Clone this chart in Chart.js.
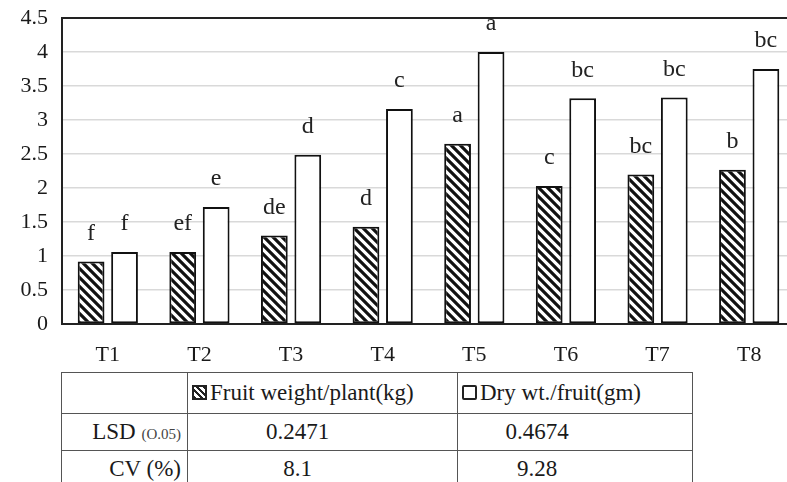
<!DOCTYPE html>
<html>
<head>
<meta charset="utf-8">
<script src="https://cdn.jsdelivr.net/npm/chart.js@4/dist/chart.umd.min.js"></script>
<style>
  html, body { margin: 0; padding: 0; background: #fff; }
  body { width: 787px; height: 482px; overflow: hidden; position: relative; font-family: "Liberation Serif", "Times New Roman", "DejaVu Serif", serif; color: #1a1a1a; }
  #wrap { position: absolute; left: 0; top: 0; width: 800px; height: 372px; }
  #stats { position: absolute; left: 61px; top: 372px; border-collapse: collapse; font-size: 23px; }
  #stats td { border: 1.5px solid #555; padding: 0; white-space: nowrap; }
  #stats tr.head td { height: 40px; }
  #stats tr.lsd td { height: 36px; }
  #stats tr.cv td { height: 36px; }
  .c1 { width: 119px; text-align: right; padding-right: 6px !important; }
  .c2 { width: 269px; }
  .c3 { width: 234px; }
  .v2 { text-align: center; padding-right: 50px !important; }
  .v3 { text-align: center; padding-right: 76px !important; }
  .sub { font-size: 15px; color: #444; }
  .ico { display: inline-block; width: 11px; height: 11px; border: 2px solid #222; vertical-align: 0px; margin: 0 3px 0 4px; }
  .ico.hatch { background: repeating-linear-gradient(45deg, #222 0 2px, #fff 2px 4.5px); }
  .ico.plain { background: #fff; border-radius: 2px; }
</style>
</head>
<body>
<div id="wrap"><canvas id="chart"></canvas></div>
<table id="stats">
  <tr class="head">
    <td class="c1"></td>
    <td class="c2" id="name1"></td>
    <td class="c3" id="name2"></td>
  </tr>
  <tr class="lsd">
    <td class="c1">LSD <span class="sub">(O.05)</span></td>
    <td class="v2" id="lsd1"></td>
    <td class="v3" id="lsd2"></td>
  </tr>
  <tr class="cv">
    <td class="c1">CV (%)</td>
    <td class="v2" id="cv1"></td>
    <td class="v3" id="cv2"></td>
  </tr>
</table>
<script>
const categories = ["T1", "T2", "T3", "T4", "T5", "T6", "T7", "T8"];
const seriesNames = ["Fruit weight/plant(kg)", "Dry wt./fruit(gm)"];
const fruitWeight = [0.92, 1.06, 1.30, 1.43, 2.65, 2.03, 2.20, 2.27];
const dryWeight = [1.06, 1.72, 2.49, 3.16, 4.00, 3.32, 3.33, 3.75];
const fruitLetters = ["f", "ef", "de", "d", "a", "c", "bc", "b"];
const dryLetters = ["f", "e", "d", "c", "a", "bc", "bc", "bc"];
const lsdValues = ["0.2471", "0.4674"];
const cvValues = ["8.1", "9.28"];

const SERIF = "'Liberation Serif', 'Times New Roman', 'DejaVu Serif', serif";

// table under the plot
document.getElementById("name1").innerHTML = '<span class="ico hatch"></span>' + seriesNames[0];
document.getElementById("name2").innerHTML = '<span class="ico plain"></span>' + seriesNames[1];
document.getElementById("lsd1").textContent = lsdValues[0];
document.getElementById("lsd2").textContent = lsdValues[1];
document.getElementById("cv1").textContent = cvValues[0];
document.getElementById("cv2").textContent = cvValues[1];

const makeHatch = () => {
  const size = 9;
  const c = document.createElement("canvas");
  c.width = size;
  c.height = size;
  const g = c.getContext("2d");
  g.fillStyle = "#fff";
  g.fillRect(0, 0, size, size);
  g.strokeStyle = "#111";
  g.lineWidth = 3.2;
  g.beginPath();
  g.moveTo(-2, -2); g.lineTo(size + 2, size + 2);
  g.moveTo(-2, size - 2); g.lineTo(2, size + 2);
  g.moveTo(size - 2, -2); g.lineTo(size + 2, 2);
  g.stroke();
  return g.createPattern(c, "repeat");
};

const frame = {
  id: "frame",
  afterDatasetsDraw(chart) {
    const { ctx, chartArea: a } = chart;
    ctx.save();
    ctx.strokeStyle = "#222";
    ctx.lineWidth = 2;
    ctx.strokeRect(a.left, a.top, a.right - a.left, a.bottom - a.top);
    ctx.restore();
  }
};

const letters = {
  id: "letters",
  afterDraw(chart) {
    const { ctx } = chart;
    const sets = [fruitLetters, dryLetters];
    ctx.save();
    ctx.font = "24px " + SERIF;
    ctx.fillStyle = "#222";
    ctx.textAlign = "center";
    ctx.textBaseline = "middle";
    sets.forEach((txt, i) => {
      chart.getDatasetMeta(i).data.forEach((bar, j) => {
        ctx.fillText(txt[j], bar.x, bar.y - 28);
      });
    });
    ctx.restore();
  }
};

const tickFont = { family: SERIF, size: 22 };

new Chart(document.getElementById("chart"), {
  type: "bar",
  data: {
    labels: categories,
    datasets: [
      { label: seriesNames[0], data: fruitWeight, backgroundColor: makeHatch(), borderColor: "#111", borderWidth: 2, borderSkipped: false },
      { label: seriesNames[1], data: dryWeight, backgroundColor: "#fff", borderColor: "#111", borderWidth: 2, borderSkipped: false }
    ]
  },
  options: {
    responsive: true,
    maintainAspectRatio: false,
    animation: false,
    events: [],
    layout: { padding: { top: 18, right: 5, left: 0, bottom: 0 } },
    datasets: { bar: { categoryPercentage: 0.73, barPercentage: 0.8 } },
    plugins: { legend: { display: false }, tooltip: { enabled: false } },
    scales: {
      x: {
        grid: { display: false, drawTicks: false },
        border: { display: false },
        ticks: { font: tickFont, color: "#1a1a1a", padding: 18 },
        afterFit: (s) => { s.height = 48; s.paddingLeft = 0; s.paddingRight = 0; }
      },
      y: {
        min: 0,
        max: 4.5,
        ticks: { stepSize: 0.5, font: tickFont, color: "#1a1a1a", padding: 14, callback: (v) => String(v) },
        grid: { color: "#d9d9d9", lineWidth: 1.5, drawTicks: false },
        border: { display: false },
        afterFit: (s) => { s.width = 62; s.paddingTop = 0; s.paddingBottom = 0; }
      }
    }
  },
  plugins: [frame, letters]
});
</script>
</body>
</html>
